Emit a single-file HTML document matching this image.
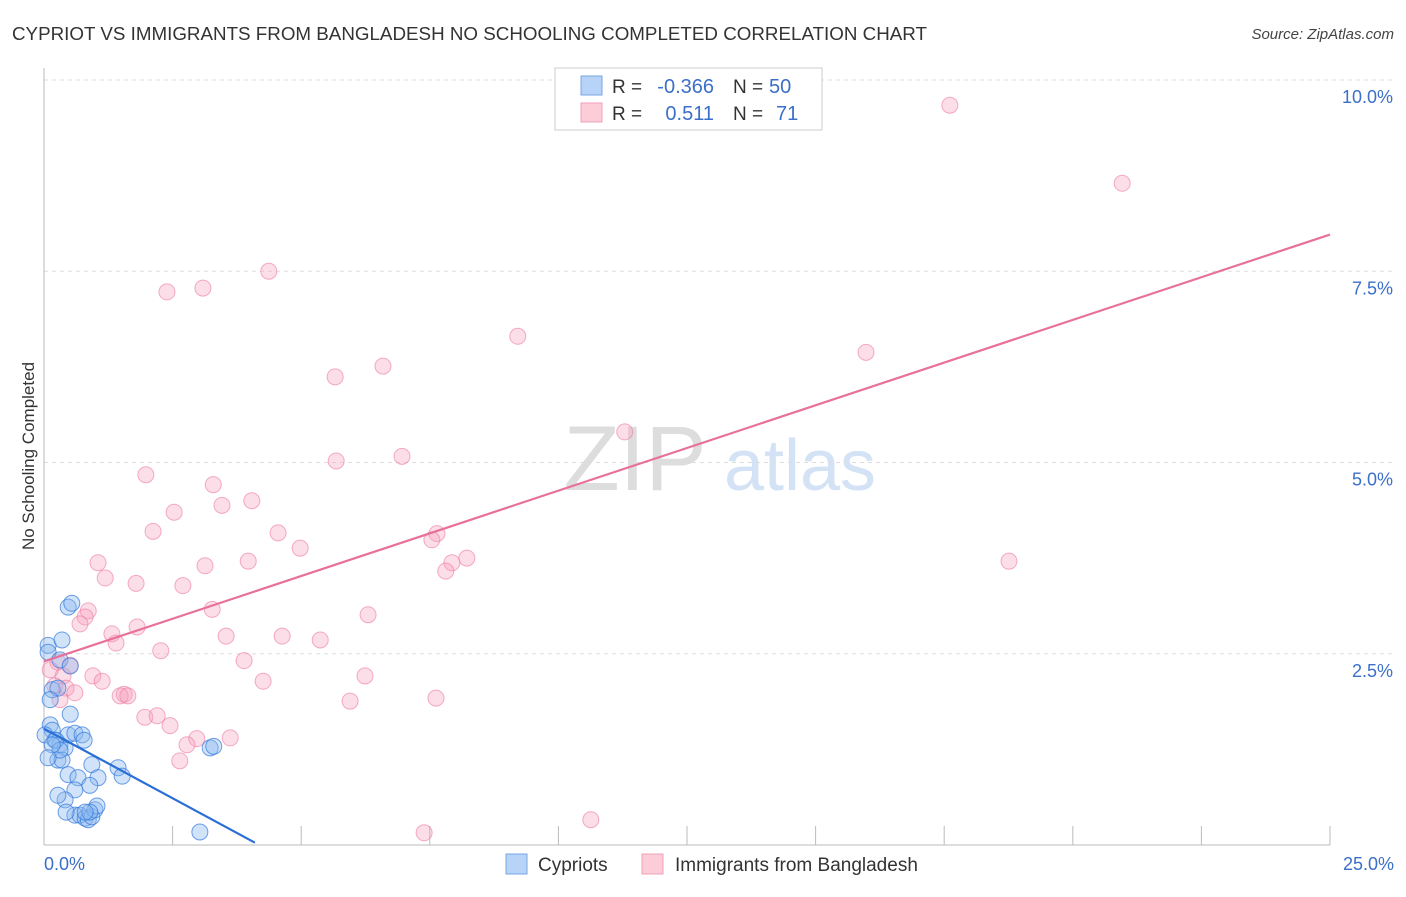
<!DOCTYPE html>
<html><head><meta charset="utf-8"><style>
body{margin:0;background:#fff;font-family:"Liberation Sans",sans-serif}
svg text{font-family:"Liberation Sans",sans-serif}
</style></head><body>
<svg id="chart" width="1406" height="892" xmlns="http://www.w3.org/2000/svg">
<text x="12" y="40" font-size="18" fill="#333" textLength="915" lengthAdjust="spacingAndGlyphs">CYPRIOT VS IMMIGRANTS FROM BANGLADESH NO SCHOOLING COMPLETED CORRELATION CHART</text>
<text x="1394" y="39" font-size="15" fill="#444" font-style="italic" text-anchor="end">Source: ZipAtlas.com</text>
<text x="635" y="490" font-size="92" fill="#ddd" font-family="Liberation Serif" text-anchor="middle">ZIP</text>
<text x="800" y="490" font-size="72" fill="#d4e2f5" text-anchor="middle">atlas</text>
<g id="grid"></g>
<line x1="44" y1="845" x2="1330" y2="845" stroke="#bbb"/>
<line x1="44" y1="68" x2="44" y2="845" stroke="#bbb"/>
<g id="marks"></g>
<text transform="translate(34,456) rotate(-90)" font-size="17" fill="#333" text-anchor="middle">No Schooling Completed</text>
<text x="44" y="870" font-size="18" fill="#3b6fc9">0.0%</text>
<text x="1394" y="870" font-size="18" fill="#3b6fc9" text-anchor="end">25.0%</text>
<g>
<rect x="555" y="68" width="267" height="62" fill="#fff" stroke="#ccc"/>
<rect x="581" y="76" width="21" height="19" fill="#b7d3f7" stroke="#7aa6e6"/>
<rect x="581" y="103" width="21" height="19" fill="#fcccd9" stroke="#f0a0b8"/>
<text x="612" y="93" font-size="19" fill="#333">R =</text>
<text x="714" y="93" font-size="20" fill="#3b6fc9" text-anchor="end">-0.366</text>
<text x="733" y="93" font-size="19" fill="#333">N =</text>
<text x="769" y="93" font-size="20" fill="#3b6fc9">50</text>
<text x="612" y="120" font-size="19" fill="#333">R =</text>
<text x="714" y="120" font-size="20" fill="#3b6fc9" text-anchor="end">0.511</text>
<text x="733" y="120" font-size="19" fill="#333">N =</text>
<text x="776" y="120" font-size="20" fill="#3b6fc9">71</text>
</g>
<g>
<rect x="506" y="854" width="21" height="20" fill="#b7d3f7" stroke="#7aa6e6"/>
<text x="538" y="871" font-size="19" fill="#333">Cypriots</text>
<rect x="642" y="854" width="21" height="20" fill="#fcccd9" stroke="#f0a0b8"/>
<text x="675" y="871" font-size="19" fill="#333">Immigrants from Bangladesh</text>
</g>
</svg>
<script>
const yTicks=[2.5,5.0,7.5,10.0];
const xTicks=[0,2.5,5,7.5,10,12.5,15,17.5,20,22.5,25];
const bluePx=[[48,645],[48,652],[62,640],[68,607],[72,603],[60,660],[70,666],[52,690],[58,688],[50,725],[52,730],[55,740],[60,745],[65,748],[68,735],[75,733],[82,735],[84,740],[70,714],[58,760],[62,760],[68,775],[78,778],[75,790],[92,765],[98,778],[90,785],[118,768],[122,776],[65,800],[75,815],[80,815],[85,818],[88,820],[92,817],[95,810],[97,806],[90,812],[210,748],[214,746],[200,832],[45,735],[50,700],[56,740],[60,750],[52,745],[48,758],[58,795],[85,812],[66,812]];
const pinkPx=[[950,105],[1122,183],[269,271],[167,292],[203,288],[518,336],[866,352],[383,366],[335,377],[625,432],[402,456],[336,461],[146,475],[213,485],[252,501],[222,505],[174,512],[153,531],[278,533],[437,534],[432,540],[300,548],[98,563],[248,561],[205,566],[1009,561],[467,558],[452,563],[446,571],[105,578],[136,583],[183,586],[212,609],[88,611],[85,617],[368,615],[80,624],[137,627],[112,634],[226,636],[282,636],[320,640],[116,643],[161,651],[244,661],[58,662],[70,665],[63,676],[365,676],[93,676],[102,681],[263,681],[55,686],[66,688],[75,693],[50,670],[124,694],[120,696],[128,696],[350,701],[436,698],[145,717],[157,716],[170,726],[230,738],[197,739],[187,745],[180,761],[424,833],[591,820],[60,700]];
const blueX=bluePx.map(p=>+((p[0]-44)/1286*25).toFixed(2));
const blueY=bluePx.map(p=>+((845-p[1])/76.5).toFixed(2));
const pinkX=pinkPx.map(p=>+((p[0]-44)/1286*25).toFixed(2));
const pinkY=pinkPx.map(p=>+((845-p[1])/76.5).toFixed(2));
const blueTrend=[[0,1.52],[4.1,0.03]];
const pinkTrend=[[0,2.4],[25,7.98]];
const X=v=>44+v/25*1286, Y=v=>845-v*76.5;
const NS="http://www.w3.org/2000/svg";
const grid=document.getElementById('grid'),marks=document.getElementById('marks');
function mk(t,a,parent){const e=document.createElementNS(NS,t);for(const k in a)e.setAttribute(k,a[k]);parent.appendChild(e);return e;}
yTicks.forEach(v=>{
 const l=mk('line',{x1:44,x2:1393,y1:Y(v),y2:Y(v),stroke:'#ddd','stroke-dasharray':'4,4'},grid);
 
 
 const t=mk('text',{x:1393,y:Y(v)+23,'font-size':18,fill:'#3b6fc9','text-anchor':'end'},grid);
 t.textContent=v.toFixed(1)+'%';
 
 
});
xTicks.forEach(v=>{
 const l=mk('line',{x1:X(v),x2:X(v),y1:826,y2:845,stroke:'#bbb'},grid);
 
 
});
pinkX.forEach((x,i)=>{
 const c=mk('circle',{cx:X(x),cy:Y(pinkY[i]),r:8,fill:'rgba(246,160,188,0.35)',stroke:'rgba(236,120,160,0.6)','stroke-width':1},marks);
 
 
});
blueX.forEach((x,i)=>{
 const c=mk('circle',{cx:X(x),cy:Y(blueY[i]),r:8,fill:'rgba(140,185,240,0.4)',stroke:'rgba(50,120,220,0.7)','stroke-width':1},marks);
 
 
});
const pl=mk('line',{x1:X(pinkTrend[0][0]),y1:Y(pinkTrend[0][1]),x2:X(pinkTrend[1][0]),y2:Y(pinkTrend[1][1]),stroke:'#e8719a','stroke-width':2.2},marks);


const bl=mk('line',{x1:X(blueTrend[0][0]),y1:Y(blueTrend[0][1]),x2:X(blueTrend[1][0]),y2:Y(blueTrend[1][1]),stroke:'#2a6fd6','stroke-width':2.2},marks);


</script>
</body></html>
